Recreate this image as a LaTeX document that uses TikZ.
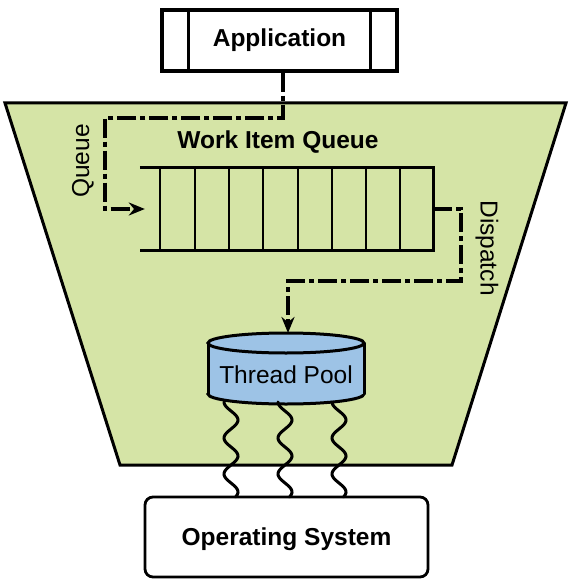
\documentclass[tikz,border=0pt]{standalone}
\usepackage{fontspec}
\setmainfont{Liberation Sans}
\usetikzlibrary{arrows.meta}
\definecolor{poolgreen}{HTML}{D5E4A6}
\definecolor{poolblue}{HTML}{9DC3E6}

\begin{document}
\begin{tikzpicture}[x=1pt,y=-1pt,
		bigfont/.style={font=\fontsize{24.5}{28}\selectfont},
		boldbox/.style={draw, line width=3.4pt, fill=white, font=\fontsize{24.5}{28}\selectfont\bfseries},
		flow/.style={line width=3.4pt, dash pattern=on 19pt off 4pt on 5pt off 4pt, -{Stealth[length=16pt,width=13pt]}},
		wavy/.style={line width=3pt, line cap=round}]
		\useasboundingbox (0,0) rectangle (573,585);
		% green area
		\filldraw[fill=poolgreen, line width=3pt] (5,103) -- (566,103) -- (452,465) -- (120,465) -- cycle;
		\path (279.5,40.5) node(app)[boldbox, minimum width=235, minimum height=61]{Application}
		(278,142) node(title)[font=\fontsize{24.5}{28}\selectfont\bfseries]{Work Item Queue}
		(286.5,209) node(wq)[minimum width=293, minimum height=82]{}
		(83,161) node(qlabel)[bigfont, rotate=90]{Queue}
		(487,248) node(dlabel)[bigfont, rotate=-90]{Dispatch}
		(286.5,537) node(os)[boldbox, rounded corners=8pt, line width=2.8pt, text depth=0pt, minimum width=283, minimum height=80]{Operating System};
		\draw[line width=3.4pt] ([xshift=28pt]app.north west) -- ([xshift=28pt]app.south west)
		([xshift=-28pt]app.north east) -- ([xshift=-28pt]app.south east);
		% queue cells
		\draw[line width=3.2pt] (wq.north west) -- (wq.north east) -- (wq.south east) -- (wq.south west);
		\foreach \wx in {160,195,229,263,298,332,366,400}
			\draw[line width=2.8pt] (\wx,0 |- wq.north) -- (\wx,0 |- wq.south);
		% thread pool
		\filldraw[fill=poolblue, line width=3pt] (286,394) ellipse [x radius=78, y radius=10];
		\fill[poolblue] (208,343) rectangle (364,394);
		\draw[line width=3pt] (208,343) -- (208,394) (364,343) -- (364,394);
		\filldraw[fill=poolblue, line width=3pt] (286,343) ellipse [x radius=78, y radius=10];
		\coordinate (pooltop) at (288,333);
		\path (286,375) node(pool)[bigfont]{Thread Pool};
		% connectors
		\draw[flow] ([xshift=3.5pt]app.south) |- (105,118) |- ([xshift=5pt]wq.west);
		\draw[flow] (wq.east) -| (461,281) -| (pooltop);
		\foreach \wx in {231,285,339}
			\draw[wavy] plot[domain=402:497, samples=80, smooth] ({\wx-7*cos((\x-402)*10)}, \x);
	\end{tikzpicture}
\end{document}
